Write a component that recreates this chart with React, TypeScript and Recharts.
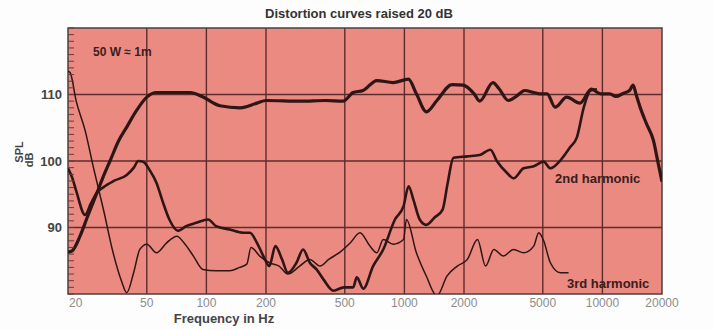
import React from "react";
import {
  LineChart,
  Line,
  XAxis,
  YAxis,
  CartesianGrid,
  ReferenceArea,
} from "recharts";

// ---- data ----
const fundFreq = [20, 21, 23, 25, 28, 30, 32.6, 36, 39.6, 44.4, 50, 56, 70, 83, 95, 117, 148, 180, 200, 300, 400, 490, 551, 618, 726, 877, 1048, 1150, 1292, 1460, 1740, 1980, 2250, 2400, 2800, 3000, 3350, 3700, 4050, 4500, 4820, 5260, 5770, 6600, 7700, 8800, 9800, 10900, 11700, 12800, 13700, 14300, 14800, 15500, 16700, 18100, 19000, 20000];
const fundSpl = [86.3, 86.5, 88.7, 91.5, 95.2, 97.5, 100, 103, 105.1, 107.6, 109.6, 110.3, 110.3, 110.3, 109.7, 108.3, 108.0, 108.7, 109.1, 109.0, 109.1, 109.0, 110.3, 110.6, 112.1, 111.8, 112.3, 110.1, 107.4, 109.1, 111.5, 111.4, 110.1, 109.0, 111.8, 110.9, 109.1, 109.8, 110.6, 110.3, 110.1, 110.1, 108.1, 109.6, 108.7, 110.8, 110.1, 110.1, 109.7, 110.2, 110.6, 111.4, 110.0, 108.1, 105.6, 103.1, 100.1, 96.9];

const h2Freq = [20, 21, 22, 24.4, 26, 27.9, 30, 34, 39.6, 43, 45.3, 47.9, 52, 56, 60, 65, 72, 79, 89, 102, 112, 131, 154, 166, 180, 194, 208, 223, 241, 258, 285, 308, 333, 360, 390, 438, 494, 551, 575, 620, 695, 782, 896, 990, 1050, 1110, 1195, 1290, 1420, 1560, 1650, 1770, 2080, 2400, 2720, 2930, 3300, 3560, 4000, 4500, 5050, 5460, 6140, 6880, 7440, 8060, 8700, 9380];
const h2Spl = [98.9, 97.5, 95.5, 91.9, 93.5, 95.2, 96, 97, 97.9, 99, 100, 99.9, 98.5, 96.7, 94, 91.2, 89.5, 90.2, 90.7, 91.2, 90.2, 89.7, 89.2, 89.2, 87.7, 85.7, 84.2, 87.2, 85.2, 83.2, 84.7, 86.7, 84.7, 83.7, 82.2, 80.5, 81, 81, 82.5, 80.8, 84.2, 86.7, 91.2, 93.2, 96.2, 94.2, 91.2, 90.4, 91.5, 92.7, 96.5, 100.5, 100.7, 100.9, 101.7, 100, 98.2, 97.4, 98.9, 99.2, 99.9, 98.9, 100.1, 102.1, 103.6, 108.1, 110.6, 110.8];

const h3Freq = [20, 20.5, 22, 24.4, 26.8, 30.2, 33.8, 37.2, 39.6, 42.9, 46.1, 50, 56, 63, 71, 77, 86, 96, 112, 131, 147, 160, 168, 186, 208, 233, 258, 296, 333, 375, 415, 473, 533, 597, 670, 726, 782, 878, 990, 1024, 1150, 1290, 1460, 1640, 1850, 2080, 2340, 2570, 2830, 3160, 3560, 4000, 4500, 4770, 5050, 5460, 6140, 6750];
const h3Spl = [113.5, 113.3, 109, 104.6, 99.2, 92.7, 86.2, 82, 80.2, 83.2, 86.7, 87.5, 86.2, 87.7, 88.7, 87.7, 85.7, 83.7, 83.5, 83.5, 84, 84.5, 87.0, 85.7, 84.7, 84.2, 83, 84.2, 85.2, 84.2, 85.2, 86.3, 87.7, 89.2, 87.2, 86.2, 88.2, 87.5, 88.2, 91.2, 86.2, 82.7, 79.7, 82.7, 84.2, 85.2, 88.2, 84.2, 86.7, 85.7, 86.7, 86.2, 87.2, 89.2, 88, 84.7, 83.2, 83.2];

const xTicks = [20, 50, 100, 200, 500, 1000, 2000, 5000, 10000, 20000];
const gridFreqs = [50, 100, 200, 500, 1000, 2000, 5000, 10000];
const gridLevels = [90, 100, 110];
const yLabels = [90, 100, 110];
const yMinorTicks = [80, 81, 82, 83, 84, 85, 86, 87, 88, 89, 90, 91, 92, 93, 94, 95, 96, 97, 98, 99, 100, 101, 102, 103, 104, 105, 106, 107, 108, 109, 110, 111, 112, 113, 114, 115, 116, 117, 118, 119, 120];
const rightTicks = [80, 90, 100];
const rightLabels = ["0.32%", "1.0%", "3.2%"];

const toRows = (f: number[], v: number[]) => f.map((x, i) => ({ f: x, v: v[i] }));
const fundData = toRows(fundFreq, fundSpl);
const h2Data = toRows(h2Freq, h2Spl);
const h3Data = toRows(h3Freq, h3Spl);

const FONT = "'Liberation Sans', Arial, Helvetica, sans-serif";
const BG = "#EB8A80";
const INK = "#2e1616";
const GRID = "#5e2c2c";

const LeftTick = (props: any) => {
  const { x, y, payload } = props;
  const v = payload.value;
  return (
    <g>
      <line x1={x} x2={x + 6} y1={y} y2={y} stroke="#6b3a3a" strokeWidth={1} />
      {yLabels.includes(v) && (
        <text x={x - 6} y={y} textAnchor="end" dominantBaseline="central" fontFamily={FONT} fontWeight="bold" fontSize={13} fill="#444">
          {v}
        </text>
      )}
    </g>
  );
};

const BottomTick = (props: any) => {
  const { x, y, payload, index } = props;
  return (
    <text x={index === 0 ? x + 1 : x} y={y + 9} textAnchor={index === 0 ? "start" : "middle"} dominantBaseline="central" fontFamily={FONT} fontSize={12} fill="#8c8c8c">
      {payload.value}
    </text>
  );
};

const RightTick = (props: any) => {
  const { x, y, payload } = props;
  const i = rightTicks.indexOf(payload.value);
  return (
    <text x={x} y={y} textAnchor="start" dominantBaseline="central" fontFamily={FONT} fontSize={10} fill="#8c8c8c">
      {rightLabels[i]}
    </text>
  );
};

export default function App() {
  return (
    <div style={{ position: "absolute", left: 0, top: 0, width: 714, height: 330, background: "#fdfdfd" }}>
      <LineChart width={714} height={330} margin={{ top: 28, right: 0, bottom: 0, left: 0 }}>
        <CartesianGrid
          fill={BG}
          fillOpacity={1}
          stroke={GRID}
          strokeWidth={1.4}
          horizontalValues={gridLevels}
          verticalValues={gridFreqs}
        />
        <XAxis
          dataKey="f"
          type="number"
          scale="log"
          domain={[20, 20000]}
          ticks={xTicks}
          interval={0}
          allowDataOverflow
          height={36}
          tickSize={0}
          tickMargin={0}
          tickLine={false}
          axisLine={false}
          tick={<BottomTick />}
        />
        <YAxis
          type="number"
          domain={[80, 120]}
          ticks={yMinorTicks}
          interval={0}
          allowDataOverflow
          width={68}
          tickSize={0}
          tickMargin={0}
          tickLine={false}
          axisLine={false}
          tick={<LeftTick />}
        />
        <YAxis
          yAxisId="r"
          orientation="right"
          type="number"
          domain={[80, 120]}
          ticks={rightTicks}
          interval={0}
          width={52}
          tickSize={0}
          tickMargin={3}
          tickLine={false}
          axisLine={false}
          tick={<RightTick />}
        />
        <ReferenceArea x1={20} x2={20000} y1={80} y2={120} fill="none" stroke="#4a4040" strokeWidth={1.5} />
        <Line data={h3Data} dataKey="v" type="monotone" stroke={INK} strokeWidth={1.5} dot={false} isAnimationActive={false} />
        <Line data={h2Data} dataKey="v" type="monotone" stroke={INK} strokeWidth={2.6} dot={false} isAnimationActive={false} />
        <Line data={fundData} dataKey="v" type="monotone" stroke={INK} strokeWidth={3.2} dot={false} isAnimationActive={false} />
      </LineChart>
      <svg width={714} height={330} style={{ position: "absolute", left: 0, top: 0, pointerEvents: "none" }}>
        <text x={359} y={13} textAnchor="middle" dominantBaseline="central" fontFamily={FONT} fontWeight="bold" fontSize={13} fill="#333">
          Distortion curves raised 20 dB
        </text>
        <text x={93} y={52} dominantBaseline="central" fontFamily={FONT} fontWeight="bold" fontSize={12} fill="#3a2020">
          50 W ≈ 1m
        </text>
        <text x={555} y={178} dominantBaseline="central" fontFamily={FONT} fontWeight="bold" fontSize={13} fill="#3a1c1c">
          2nd harmonic
        </text>
        <text x={567} y={283} dominantBaseline="central" fontFamily={FONT} fontWeight="bold" fontSize={13} fill="#3a1c1c">
          3rd harmonic
        </text>
        <text x={224} y={318} textAnchor="middle" dominantBaseline="central" fontFamily={FONT} fontWeight="bold" fontSize={13} fill="#444">
          Frequency in Hz
        </text>
        <text transform="translate(19,152) rotate(-90)" textAnchor="middle" dominantBaseline="central" fontFamily={FONT} fontWeight="bold" fontSize={11} fill="#444">
          SPL
        </text>
        <text transform="translate(29,160) rotate(-90)" textAnchor="middle" dominantBaseline="central" fontFamily={FONT} fontWeight="bold" fontSize={11} fill="#444">
          dB
        </text>
      </svg>
    </div>
  );
}
